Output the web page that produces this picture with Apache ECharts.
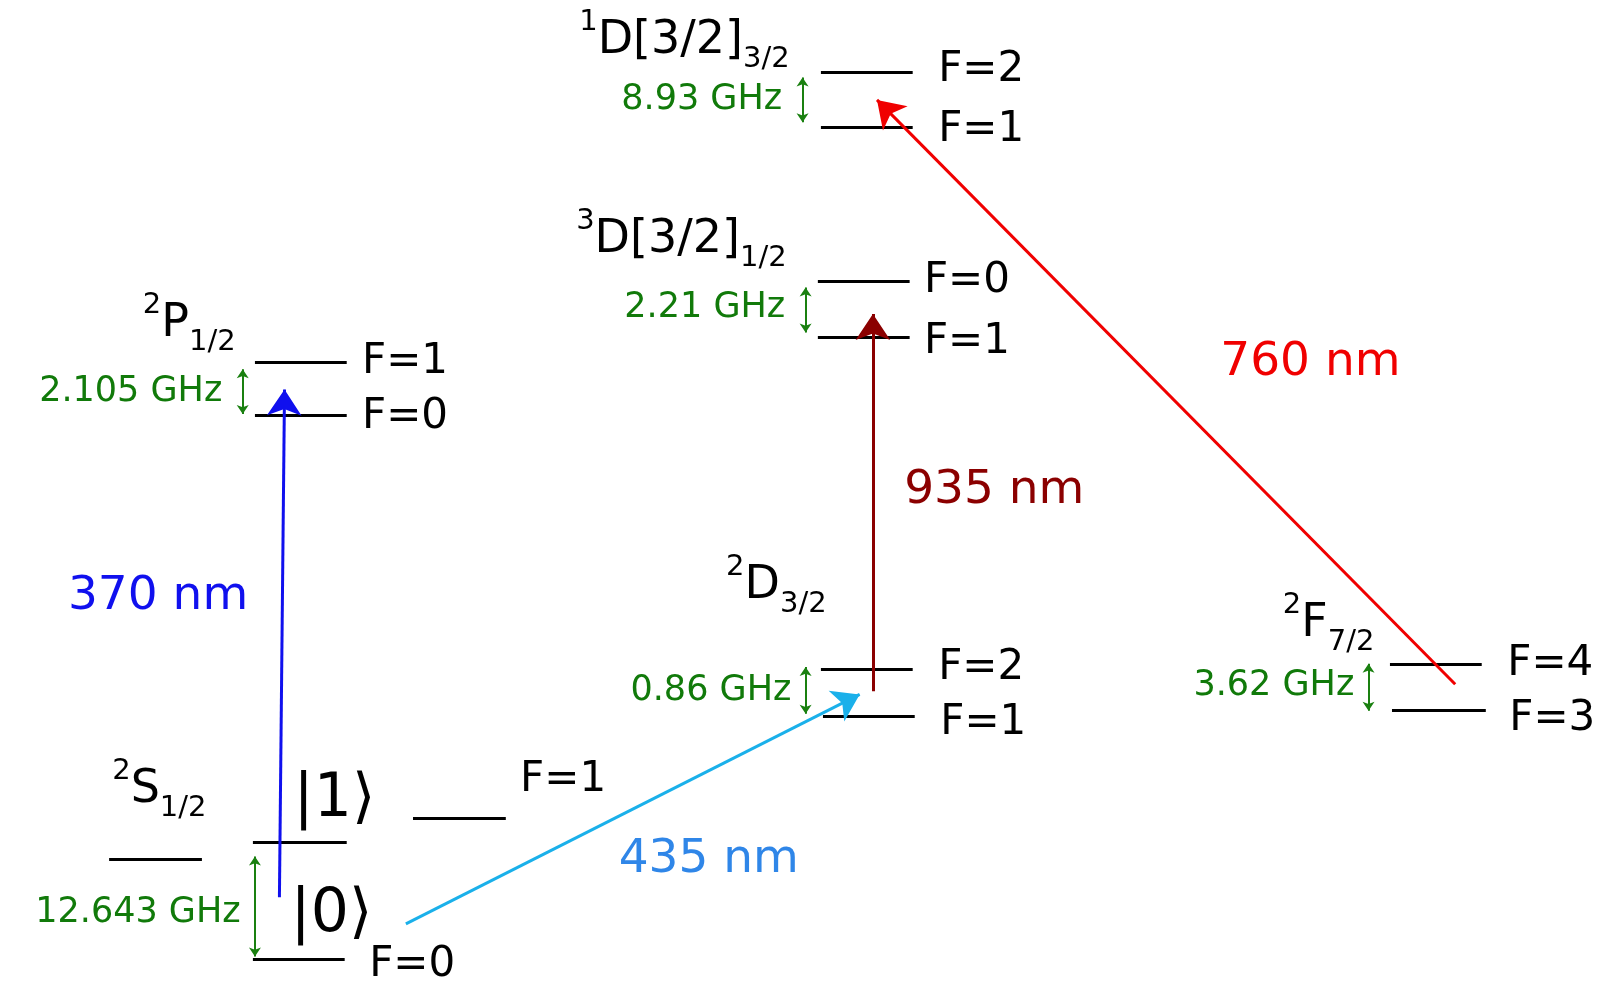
<!DOCTYPE html>
<html>
<head>
<meta charset="utf-8">
<script src="https://cdn.jsdelivr.net/npm/echarts@6/dist/echarts.min.js"></script>
<style>html,body{margin:0;background:#fff}#main{width:1599px;height:984px}</style>
</head>
<body>
<div id="main"></div>
<script>
// energy levels: [x start, x end, y]
var levels = [
    [107, 198, 843], [248, 340, 826], [248, 338, 941], [405, 496, 802],
    [250, 340, 355], [250, 340, 407],
    [802, 892, 276], [802, 892, 331],
    [805, 895, 71], [805, 895, 125],
    [805, 895, 656], [807, 897, 702],
    [1363, 1453, 651], [1365, 1457, 697]
];

// laser transitions: [x0, y0, x1, y1, colour]
var transitions = [
    [274, 880, 279, 382, '#1010ee'],
    [398, 906, 843, 681, '#1ab0ea'],
    [856, 678, 856, 308, '#8b0000'],
    [1427, 671, 860, 98, '#f00000']
];

// hyperfine splittings: [x, y top, y bottom]
var splits = [
    [238, 362, 406], [250, 840, 938], [790, 282, 326],
    [787, 76, 120], [790, 654, 700], [1342, 651, 697]
];

// texts: [x, y, text, align, size, colour]
var texts = [
    [355, 355, 'F=1', 'left', 42, '#000'], [355, 409, 'F=0', 'left', 42, '#000'],
    [510, 765, 'F=1', 'left', 42, '#000'], [362, 946, 'F=0', 'left', 42, '#000'],
    [906, 276, 'F=0', 'left', 42, '#000'], [906, 335, 'F=1', 'left', 42, '#000'],
    [920, 69, 'F=2', 'left', 42, '#000'], [920, 128, 'F=1', 'left', 42, '#000'],
    [920, 655, 'F=2', 'left', 42, '#000'], [922, 709, 'F=1', 'left', 42, '#000'],
    [1478, 651, 'F=4', 'left', 42, '#000'], [1480, 705, 'F=3', 'left', 42, '#000'],
    [218, 384, '2.105 GHz', 'right', 35, '#117a0a'],
    [236, 895, '12.643 GHz', 'right', 35, '#117a0a'],
    [770, 302, '2.21 GHz', 'right', 35, '#117a0a'],
    [767, 98, '8.93 GHz', 'right', 35, '#117a0a'],
    [776, 678, '0.86 GHz', 'right', 35, '#117a0a'],
    [1328, 673, '3.62 GHz', 'right', 35, '#117a0a'],
    [155, 585, '370 nm', 'center', 47, '#1010ee'],
    [695, 843, '435 nm', 'center', 47, '#2f86e8'],
    [975, 481, '935 nm', 'center', 47, '#8b0000'],
    [1285, 356, '760 nm', 'center', 47, '#f00000'],
    [328, 785, '|1⟩', 'center', 60, '#000'],
    [325, 898, '|0⟩', 'center', 60, '#000']
];

// term symbols: [x, y, sup, main, sub]
var terms = [
    [140, 318, '2', 'P', '1/2'],
    [110, 775, '2', 'S', '1/2'],
    [712, 575, '2', 'D', '3/2'],
    [1258, 612, '2', 'F', '7/2'],
    [565, 235, '3', 'D[3/2]', '1/2'],
    [568, 40, '1', 'D[3/2]', '3/2']
];

var font = 'DejaVu Sans';
var chart = echarts.init(document.getElementById('main'));
var series = [];

series.push({
    type: 'lines', coordinateSystem: 'cartesian2d', symbol: 'none', silent: true,
    lineStyle: {color: '#000', width: 3, opacity: 1},
    data: levels.map(function (l) { return {coords: [[l[0], l[2]], [l[1], l[2]]]}; })
});
series.push({
    type: 'lines', coordinateSystem: 'cartesian2d', symbol: ['none', 'arrow'], symbolSize: 26, silent: true,
    data: transitions.map(function (t) {
        return {coords: [[t[0], t[1]], [t[2], t[3]]], lineStyle: {color: t[4], width: 3, opacity: 1}};
    })
});
series.push({
    type: 'lines', coordinateSystem: 'cartesian2d', symbol: ['arrow', 'arrow'], symbolSize: 9, silent: true,
    lineStyle: {color: '#1a8010', width: 2, opacity: 1},
    data: splits.map(function (s) { return {coords: [[s[0], s[1]], [s[0], s[2]]]}; })
});
series.push({
    type: 'scatter', symbolSize: 0, silent: true, itemStyle: {opacity: 1},
    data: texts.map(function (t) {
        return {value: [t[0], t[1]], label: {show: true, position: 'inside', formatter: t[2], align: t[3],
            verticalAlign: 'middle', fontSize: t[4], color: t[5], fontFamily: font}};
    })
});
series.push({
    type: 'scatter', symbolSize: 0, silent: true, itemStyle: {opacity: 1},
    data: terms.map(function (t) {
        return {value: [t[0], t[1]], label: {show: true, position: 'inside', align: 'left', verticalAlign: 'middle',
            formatter: '{sup|' + t[2] + '}{main|' + t[3] + '}{sub|' + t[4] + '}',
            rich: {
                sup: {fontSize: 29, verticalAlign: 'top', lineHeight: 66, fontFamily: font, color: '#000'},
                main: {fontSize: 46, verticalAlign: 'middle', lineHeight: 66, fontFamily: font, color: '#000'},
                sub: {fontSize: 29, verticalAlign: 'bottom', lineHeight: 66, fontFamily: font, color: '#000'}
            }}};
    })
});

chart.setOption({
    animation: false,
    grid: {left: 0, right: 0, top: 0, bottom: 0},
    xAxis: {type: 'value', min: 0, max: 1568, show: false},
    yAxis: {type: 'value', min: 0, max: 965, inverse: true, show: false},
    series: series
});
</script>
</body>
</html>
